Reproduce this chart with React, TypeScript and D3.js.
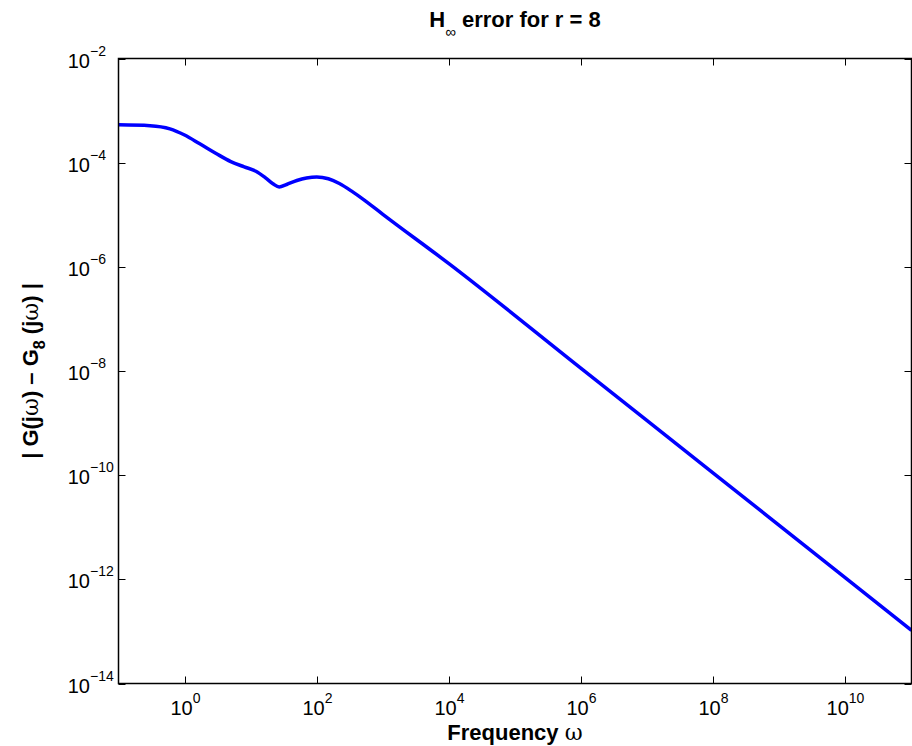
import React from "react";
import * as d3 from "d3";

const width = 912;
const height = 746;

// frequency (rad/s) and |G - G8|
const freq = [
  0.1, 0.3, 0.6, 1, 1.7, 3, 5, 8, 12, 17, 22, 27, 35, 50, 70, 100, 150, 220,
  350, 500, 1000, 1e4, 1e6, 1e8, 1e10, 1e11,
];
const errVals = [
  5.33e-4, 5.13e-4, 4.47e-4, 3.39e-4, 2.3e-4, 1.5e-4, 1.05e-4, 8.3e-5, 6.85e-5,
  5.05e-5, 3.89e-5, 3.41e-5, 3.81e-5, 4.54e-5, 5.07e-5, 5.31e-5, 4.9e-5,
  3.98e-5, 2.75e-5, 2.0e-5, 1.02e-5, 1.15e-6, 1.12e-8, 1.1e-10, 1.07e-12,
  1.05e-13,
];
const xTickExps = [0, 2, 4, 6, 8, 10];
const yTickExps = [-2, -4, -6, -8, -10, -12, -14];

const font = "'Liberation Sans', Arial, Helvetica, sans-serif";

const left = 118.5;
const right = 911.5;
const top = 58.5;
const bottom = 683.5;

const exp = (n: number) => (n < 0 ? "\u2212" + Math.abs(n) : String(n));

export default function App() {
  const x = d3.scaleLog().domain([1e-1, 1e11]).range([left, right]);
  const y = d3.scaleLog().domain([1e-14, 1e-2]).range([bottom, top]);

  const pts = freq.map((f, i) => [f, errVals[i]] as [number, number]);
  const line = d3
    .line<[number, number]>()
    .x((d) => x(d[0]))
    .y((d) => y(d[1]))
    .curve(d3.curveMonotoneX);

  const tl = 7;

  return (
    <svg
      width={width}
      height={height}
      style={{ position: "absolute", left: 0, top: 0, background: "#fff" }}
      fontFamily={font}
    >
      <defs>
        <clipPath id="plot">
          <rect x={left} y={top} width={right - left} height={bottom - top} />
        </clipPath>
      </defs>

      <path
        d={line(pts) || ""}
        fill="none"
        stroke="#0000ff"
        strokeWidth={3.5}
        strokeLinejoin="round"
        clipPath="url(#plot)"
      />

      {/* box */}
      <rect
        x={left}
        y={top}
        width={right - left}
        height={bottom - top}
        fill="none"
        stroke="#000"
        strokeWidth={1.5}
      />

      {xTickExps.map((e) => {
        const px = Math.round(x(Math.pow(10, e))) + 0.5;
        return (
          <g key={"x" + e}>
            <line x1={px} x2={px} y1={bottom} y2={bottom - tl} stroke="#000" />
            <line x1={px} x2={px} y1={top} y2={top + tl} stroke="#000" />
            <text x={px} y={715} textAnchor="middle" fontSize={20}>
              10
              <tspan dy={-12} fontSize={14}>
                {exp(e)}
              </tspan>
            </text>
          </g>
        );
      })}

      {yTickExps.map((e) => {
        const py = Math.round(y(Math.pow(10, e))) + 0.5;
        return (
          <g key={"y" + e}>
            <line x1={left} x2={left + tl} y1={py} y2={py} stroke="#000" />
            <line x1={right} x2={right - tl} y1={py} y2={py} stroke="#000" />
            <text x={90} y={py + 8} textAnchor="end" fontSize={20}>
              10
            </text>
            <text x={90} y={py - 4} textAnchor="start" fontSize={14}>
              {exp(e)}
            </text>
          </g>
        );
      })}

      {/* title */}
      <text x={515} y={27} textAnchor="middle" fontSize={22} fontWeight="bold">
        H
        <tspan dy={10} fontSize={15} fontWeight="normal">
          {"\u221e"}
        </tspan>
        <tspan dy={-10}> error for r = 8</tspan>
      </text>

      {/* x label */}
      <text x={515} y={740} textAnchor="middle" fontSize={22} fontWeight="bold">
        Frequency{" "}
        <tspan fontWeight="normal" fontFamily="'DejaVu Serif', serif">
          {"\u03c9"}
        </tspan>
      </text>

      {/* y label */}
      <text
        transform={`translate(38,${(top + bottom) / 2}) rotate(-90)`}
        textAnchor="middle"
        fontSize={22}
        fontWeight="bold"
      >
        | G(j
        <tspan fontWeight="normal" fontFamily="'DejaVu Serif', serif">
          {"\u03c9"}
        </tspan>
        ) {"\u2013"} G
        <tspan dy={7} fontSize={16}>
          8
        </tspan>
        <tspan dy={-7}> (j</tspan>
        <tspan fontWeight="normal" fontFamily="'DejaVu Serif', serif">
          {"\u03c9"}
        </tspan>
        ) |
      </text>
    </svg>
  );
}
